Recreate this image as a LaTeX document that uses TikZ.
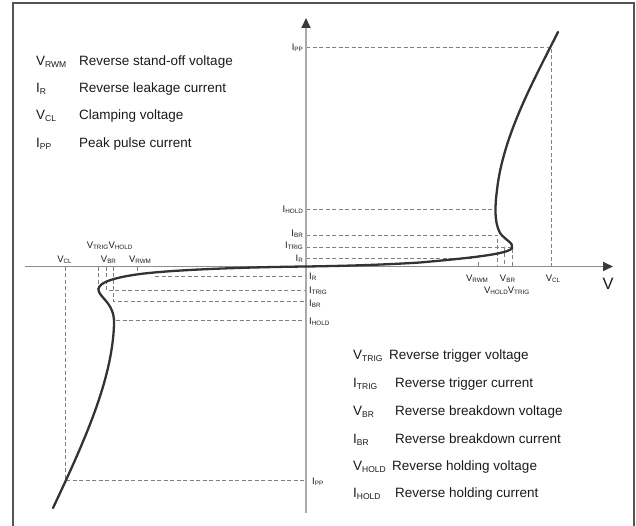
\documentclass[tikz,border=0pt]{standalone}
\usepackage{fontspec}
\setmainfont{Liberation Sans}
\usetikzlibrary{arrows.meta}
\definecolor{curvec}{HTML}{333333}
\definecolor{dashc}{HTML}{808080}
\definecolor{axisv}{HTML}{AAAAAA}
\definecolor{axish}{HTML}{8C8C8C}
\definecolor{framec}{HTML}{555555}
\definecolor{arrowc}{HTML}{3A3A3A}
\definecolor{txt}{HTML}{1A1A1A}
\newcommand{\LgS}[2]{#1\raisebox{-1.5pt}{\fontsize{8.5}{9}\selectfont #2}}
\newcommand{\AxS}[2]{{\fontsize{9.5}{10}\selectfont #1\raisebox{-0.8pt}{\fontsize{6.3}{7}\selectfont #2}}}
\begin{document}
\begin{tikzpicture}[x=1pt,y=-1pt,
  curve/.style={line width=2.3pt, color=curvec, line cap=round},
  guide/.style={line width=0.9pt, color=dashc, dash pattern=on 4pt off 2.5pt},
  lgsym/.style={anchor=base west, inner sep=0pt, text=txt, font=\fontsize{13.5}{15}\selectfont},
  lgtxt/.style={anchor=base west, inner sep=0pt, text=txt, font=\fontsize{13.5}{15}\selectfont},
  axl/.style={inner sep=0pt, text=txt},
  axarrow/.style={-{Triangle[length=10pt,width=9pt,color=arrowc]}}
]
\useasboundingbox (0,0) rectangle (636,526);
% frame
\draw[framec, line width=1.4pt] (13,526) -- (13,3) -- (634,3) -- (634,526);

% coordinates, positive side
\coordinate (ppA) at (306,47);   \coordinate (ppB) at (551,47);   \coordinate (clB) at (551,266.5);
\coordinate (hoA) at (306,209.5); \coordinate (hoB) at (495,209.5);
\coordinate (brA) at (306,235);  \coordinate (brB) at (497,235);  \coordinate (vhB) at (497,266.5);
\coordinate (trA) at (306,247);  \coordinate (trB) at (512,247);  \coordinate (vtB) at (512,266.5);
\coordinate (vbrT) at (504,247); \coordinate (vbrB) at (504,266.5);
\coordinate (irA) at (306,258.5); \coordinate (irB) at (472,258.5);
\coordinate (rwT) at (478,262);  \coordinate (rwB) at (478,266.5);
% coordinates, negative side
\coordinate (nirA) at (155,276); \coordinate (nirB) at (306,276);
\coordinate (nrwT) at (137,266.5); \coordinate (nrwB) at (137,271);
\coordinate (ntrT) at (98,266.5); \coordinate (ntrB) at (98,288);
\coordinate (nbrT) at (106,266.5); \coordinate (nbrC) at (106,290); \coordinate (nbrE) at (306,290);
\coordinate (nhoT) at (113,266.5); \coordinate (nhoC) at (113,301); \coordinate (nhoE) at (306,301);
\coordinate (nihA) at (116,320.5); \coordinate (nihB) at (306,320.5);
\coordinate (nclT) at (65,266.5); \coordinate (nclC) at (65,480); \coordinate (nclE) at (306,480);

% dashed guides
\draw[guide] (ppA) -- (ppB) -- (clB);
\draw[guide] (hoA) -- (hoB);
\draw[guide] (brA) -- (brB) -- (vhB);
\draw[guide] (trA) -- (trB) -- (vtB);
\draw[guide] (vbrT) -- (vbrB);
\draw[guide] (irA) -- (irB);
\draw[guide] (rwT) -- (rwB);
\draw[guide] (nirA) -- (nirB);
\draw[guide] (nrwT) -- (nrwB);
\draw[guide] (ntrT) -- (ntrB);
\draw[guide] (nbrT) -- (nbrC) -- (nbrE);
\draw[guide] (nhoT) -- (nhoC) -- (nhoE);
\draw[guide] (nihA) -- (nihB);
\draw[guide] (nclT) -- (nclC) -- (nclE);

% axes
\coordinate (vb) at (306,513); \coordinate (vt) at (306,18);
\coordinate (hl) at (25,266.5); \coordinate (hr) at (613,266.5);
\draw[axisv, line width=1.8pt, axarrow] (vb) -- (vt);
\draw[axish, line width=1.8pt, axarrow] (hl) -- (hr);

% curve
\draw[curve] (558,32) .. controls (535,78) and (503,135) .. (497,190)
  .. controls (495,205) and (494,222) .. (500,233)
  .. controls (505,240) and (514,243) .. (512,248)
  .. controls (509,254) and (470,258) .. (420,262.5)
  .. controls (380,265) and (340,266) .. (306,266.5)
  .. controls (260,267) and (180,269) .. (140,274)
  .. controls (110,278) and (95,284) .. (99,292)
  .. controls (103,300) and (115,305) .. (114,325)
  .. controls (112,380) and (85,440) .. (53,508);

% top legend
\node[lgsym] (s1) at (36,65.8) {\LgS{V}{RWM}};
\node[lgtxt] (t1) at (79,65.8) {Reverse stand-off voltage};
\node[lgsym] (s2) at (36,92.8) {\LgS{I}{R}};
\node[lgtxt] (t2) at (79,92.8) {Reverse leakage current};
\node[lgsym] (s3) at (36,119.8) {\LgS{V}{CL}};
\node[lgtxt] (t3) at (79,119.8) {Clamping voltage};
\node[lgsym] (s4) at (36,147.8) {\LgS{I}{PP}};
\node[lgtxt] (t4) at (79,147.8) {Peak pulse current};

% bottom legend
\node[lgsym] (b1) at (353,359.8) {\LgS{V}{TRIG}};
\node[lgtxt] (c1) at (389,359.8) {Reverse trigger voltage};
\node[lgsym] (b2) at (353,387.8) {\LgS{I}{TRIG}};
\node[lgtxt] (c2) at (395,387.8) {Reverse trigger current};
\node[lgsym] (b3) at (353,415.8) {\LgS{V}{BR}};
\node[lgtxt] (c3) at (395,415.8) {Reverse breakdown voltage};
\node[lgsym] (b4) at (353,443.8) {\LgS{I}{BR}};
\node[lgtxt] (c4) at (395,443.8) {Reverse breakdown current};
\node[lgsym] (b5) at (353,470.8) {\LgS{V}{HOLD}};
\node[lgtxt] (c5) at (392,470.8) {Reverse holding voltage};
\node[lgsym] (b6) at (353,497.8) {\LgS{I}{HOLD}};
\node[lgtxt] (c6) at (395,497.8) {Reverse holding current};

% axis labels left of I axis
\node[axl, anchor=base east] (lpp) at (303,50.4) {\AxS{I}{PP}};
\node[axl, anchor=base east] (lho) at (303,212.4) {\AxS{I}{HOLD}};
\node[axl, anchor=base east] (lbr) at (303,236.9) {\AxS{I}{BR}};
\node[axl, anchor=base east] (ltr) at (303,248.9) {\AxS{I}{TRIG}};
\node[axl, anchor=base east] (lir) at (303,261.9) {\AxS{I}{R}};
% axis labels right of I axis
\node[axl, anchor=base west] (rir) at (309,279.9) {\AxS{I}{R}};
\node[axl, anchor=base west] (rtr) at (309,293.4) {\AxS{I}{TRIG}};
\node[axl, anchor=base west] (rbr) at (309,306.4) {\AxS{I}{BR}};
\node[axl, anchor=base west] (rho) at (309,324.4) {\AxS{I}{HOLD}};
\node[axl, anchor=base west] (rpp) at (312,484.4) {\AxS{I}{PP}};
% V labels, positive side
\node[axl, anchor=base] (prw) at (477,281.4) {\AxS{V}{RWM}};
\node[axl, anchor=base] (pbr) at (507.5,281.4) {\AxS{V}{BR}};
\node[axl, anchor=base] (pcl) at (553,281.4) {\AxS{V}{CL}};
\node[axl, anchor=base] (pho) at (496,293.4) {\AxS{V}{HOLD}};
\node[axl, anchor=base] (ptr) at (518.5,293.4) {\AxS{V}{TRIG}};
% V labels, negative side
\node[axl, anchor=base] (ncl) at (64.5,262.4) {\AxS{V}{CL}};
\node[axl, anchor=base] (nbr) at (108.5,262.4) {\AxS{V}{BR}};
\node[axl, anchor=base] (nrw) at (140,262.4) {\AxS{V}{RWM}};
\node[axl, anchor=base] (ntr) at (97.5,248.4) {\AxS{V}{TRIG}};
\node[axl, anchor=base] (nho) at (120.5,248.4) {\AxS{V}{HOLD}};
% axis name
\node[axl, anchor=base, font=\fontsize{16.5}{18}\selectfont] (vname) at (608,289.9) {V};
\end{tikzpicture}
\end{document}
